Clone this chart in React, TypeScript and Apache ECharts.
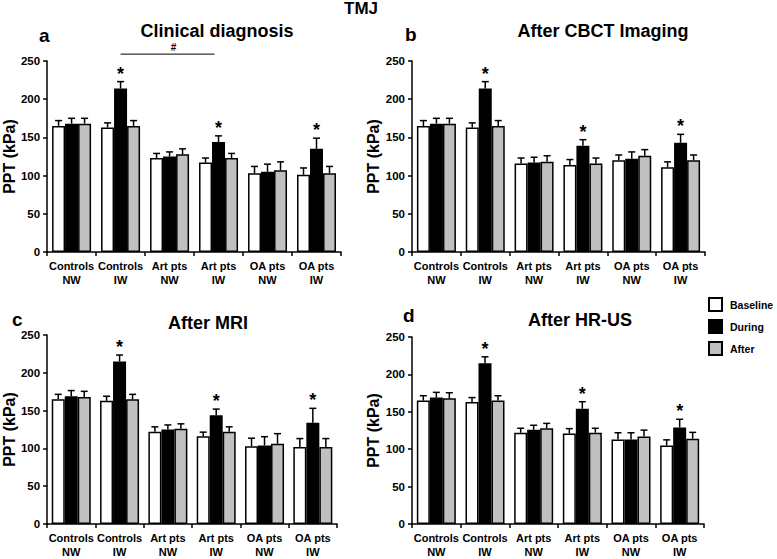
import React, { useEffect, useRef } from 'react';
import * as echarts from 'echarts';

const categories = ['Controls\nNW', 'Controls\nIW', 'Art pts\nNW', 'Art pts\nIW', 'OA pts\nNW', 'OA pts\nIW'];
const seriesNames = ['Baseline', 'During', 'After'];
const seriesColors = ['#ffffff', '#000000', '#c0c0c0'];
const yTicks = [0, 50, 100, 150, 200, 250];

// Panel a: Clinical diagnosis
const aBaseline = [165, 163, 123, 117, 103, 101];
const aBaselineSd = [7, 6, 6, 6, 9, 9];
const aDuring = [168, 214, 125, 144, 105, 135];
const aDuringSd = [7, 9, 6, 8, 10, 14];
const aAfter = [168, 165, 128, 123, 107, 103];
const aAfterSd = [7, 7, 7, 6, 11, 9];
const aStars = [1, 3, 5];

// Panel b: After CBCT Imaging
const bBaseline = [165, 163, 116, 114, 120, 111];
const bBaselineSd = [7, 6, 7, 7, 7, 7];
const bDuring = [168, 214, 117, 139, 122, 143];
const bDuringSd = [7, 9, 7, 8, 9, 11];
const bAfter = [168, 165, 118, 116, 126, 120];
const bAfterSd = [7, 7, 8, 7, 8, 7];
const bStars = [1, 3, 5];

// Panel c: After MRI
const cBaseline = [165, 163, 122, 116, 103, 102];
const cBaselineSd = [6.5, 6, 6.5, 5.5, 10.5, 11];
const cDuring = [169, 215, 125, 144, 104, 134];
const cDuringSd = [7.5, 8.5, 6, 8, 11.5, 19];
const cAfter = [168, 165, 126, 122, 106, 102];
const cAfterSd = [7.5, 6.5, 6.5, 6.5, 13.5, 11];
const cStars = [1, 3, 5];

// Panel d: After HR-US
const dBaseline = [165, 163, 122, 121, 113, 105];
const dBaselineSd = [6.5, 6, 6, 6.5, 9, 7.5];
const dDuring = [169, 215, 126, 154, 113, 129];
const dDuringSd = [7, 8.5, 6, 9.5, 9, 11];
const dAfter = [168, 165, 128, 122, 117, 114];
const dAfterSd = [7.5, 6.5, 6.5, 6, 8.5, 8.5];
const dStars = [1, 3, 5];

// Panel a comparison bracket (#) between categories
const bracketFrom = 1;
const bracketTo = 3;
const bracketValue = 259;

const FONT = 'Liberation Sans, Arial, Helvetica, sans-serif';
const BAR_W = 13;

const panels = [
  { letter: 'a', title: 'Clinical diagnosis', vals: [aBaseline, aDuring, aAfter], sds: [aBaselineSd, aDuringSd, aAfterSd], stars: aStars,
    grid: { left: 44, top: 61, width: 297, height: 191 }, nameGap: 27, titlePos: [217, 31], letterPos: [39, 35] },
  { letter: 'b', title: 'After CBCT Imaging', vals: [bBaseline, bDuring, bAfter], sds: [bBaselineSd, bDuringSd, bAfterSd], stars: bStars,
    grid: { left: 412, top: 61, width: 293, height: 191 }, nameGap: 30, titlePos: [603, 31], letterPos: [405, 34] },
  { letter: 'c', title: 'After MRI', vals: [cBaseline, cDuring, cAfter], sds: [cBaselineSd, cDuringSd, cAfterSd], stars: cStars,
    grid: { left: 43, top: 335, width: 294, height: 191 }, nameGap: 28, titlePos: [208, 323], letterPos: [12, 319] },
  { letter: 'd', title: 'After HR-US', vals: [dBaseline, dDuring, dAfter], sds: [dBaselineSd, dDuringSd, dAfterSd], stars: dStars,
    grid: { left: 412, top: 337, width: 292, height: 191 }, nameGap: 29, titlePos: [580, 320], letterPos: [403, 315] },
];

function buildOption() {
  const grid: any[] = [];
  const xAxis: any[] = [];
  const yAxis: any[] = [];
  const series: any[] = [];
  const graphic: any[] = [];

  graphic.push({ type: 'text', x: 361, y: 8, silent: true,
    style: { text: 'TMJ', font: `bold 17px ${FONT}`, fill: '#000', textAlign: 'center', textVerticalAlign: 'middle' } });

  panels.forEach((p, pi) => {
    grid.push({ ...p.grid, containLabel: false });
    xAxis.push({
      type: 'category', gridIndex: pi, data: categories,
      axisLine: { lineStyle: { color: '#000', width: 1.5 } },
      axisTick: { show: true, length: 4, lineStyle: { color: '#000', width: 1.5 } },
      axisLabel: { color: '#000', fontFamily: FONT, fontWeight: 'bold', fontSize: 11, lineHeight: 14, margin: 7, interval: 0 },
      splitLine: { show: false },
    });
    yAxis.push({
      type: 'value', gridIndex: pi, min: yTicks[0], max: yTicks[yTicks.length - 1], interval: yTicks[1] - yTicks[0],
      name: 'PPT (kPa)', nameLocation: 'middle', nameRotate: 90, nameGap: p.nameGap,
      nameTextStyle: { color: '#000', fontFamily: FONT, fontWeight: 'bold', fontSize: 16 },
      axisLine: { show: true, lineStyle: { color: '#000', width: 1.5 } },
      axisTick: { show: true, length: 4, lineStyle: { color: '#000', width: 1.5 } },
      axisLabel: { color: '#000', fontFamily: FONT, fontWeight: 'bold', fontSize: 11.5, margin: 7 },
      splitLine: { show: false },
    });
    seriesNames.forEach((name, si) => {
      series.push({
        type: 'bar', name, xAxisIndex: pi, yAxisIndex: pi, data: p.vals[si],
        barWidth: BAR_W, barGap: '0%', silent: true,
        itemStyle: { color: seriesColors[si], borderColor: '#000', borderWidth: 1.5 },
      });
    });
    const vals = p.vals, sds = p.sds, stars = p.stars;
    series.push({
      type: 'custom', xAxisIndex: pi, yAxisIndex: pi, silent: true, z: 10,
      data: categories.map((_, i) => [i, vals[1][i]]),
      renderItem: (params: any, api: any) => {
        const i = api.value(0);
        const children: any[] = [];
        for (let s = 0; s < 3; s++) {
          const v = vals[s][i];
          const e = v + sds[s][i];
          const p0 = api.coord([i, v]);
          const p1 = api.coord([i, e]);
          const x = p0[0] + (s - 1) * BAR_W;
          children.push({ type: 'line', shape: { x1: x, y1: p0[1], x2: x, y2: p1[1] }, style: { stroke: '#000', lineWidth: 1.5 } });
          children.push({ type: 'line', shape: { x1: x - 3.5, y1: p1[1], x2: x + 3.5, y2: p1[1] }, style: { stroke: '#000', lineWidth: 1.5 } });
        }
        if (stars.indexOf(i) >= 0) {
          const e = vals[1][i] + sds[1][i];
          const pt = api.coord([i, e]);
          children.push({ type: 'text', x: pt[0], y: pt[1] - 8,
            style: { text: '*', font: `bold 18px ${FONT}`, fill: '#000', textAlign: 'center', textVerticalAlign: 'middle' } });
        }
        return { type: 'group', children };
      },
    });
    if (pi === 0) {
      series.push({
        type: 'custom', xAxisIndex: pi, yAxisIndex: pi, silent: true, z: 10, clip: false,
        data: [[bracketFrom, bracketValue, bracketTo]],
        renderItem: (params: any, api: any) => {
          const a = api.coord([api.value(0), api.value(1)]);
          const b = api.coord([api.value(2), api.value(1)]);
          return { type: 'group', children: [
            { type: 'line', shape: { x1: a[0], y1: a[1], x2: b[0] - 4, y2: b[1] }, style: { stroke: '#000', lineWidth: 1 } },
            { type: 'text', x: (a[0] + b[0]) / 2 + 4, y: a[1] - 7,
              style: { text: '#', font: `bold 10px ${FONT}`, fill: '#000', textAlign: 'center', textVerticalAlign: 'middle' } },
          ] };
        },
      });
    }
    graphic.push({ type: 'text', x: p.titlePos[0], y: p.titlePos[1], silent: true,
      style: { text: p.title, font: `bold 18px ${FONT}`, fill: '#000', textAlign: 'center', textVerticalAlign: 'middle' } });
    graphic.push({ type: 'text', x: p.letterPos[0], y: p.letterPos[1], silent: true,
      style: { text: p.letter, font: `bold 19px ${FONT}`, fill: '#000', textAlign: 'left', textVerticalAlign: 'middle' } });
  });

  return {
    animation: false,
    backgroundColor: '#ffffff',
    grid, xAxis, yAxis, series, graphic,
    legend: {
      data: seriesNames, orient: 'vertical', left: 708, top: 297, padding: 0,
      itemWidth: 13, itemHeight: 13, itemGap: 7, icon: 'rect', selectedMode: false,
      itemStyle: { borderColor: '#000', borderWidth: 2 },
      textStyle: { color: '#000', fontFamily: FONT, fontWeight: 'bold', fontSize: 10.5, lineHeight: 13, padding: [0, 0, 0, 3] },
    },
  };
}

export default function App() {
  const ref = useRef<HTMLDivElement>(null);
  useEffect(() => {
    if (!ref.current) return;
    const chart = echarts.init(ref.current, undefined, { renderer: 'svg' });
    chart.setOption(buildOption() as any);
    return () => chart.dispose();
  }, []);
  return <div ref={ref} style={{ position: 'fixed', left: 0, top: 0, width: 777, height: 559, background: '#fff' }} />;
}
